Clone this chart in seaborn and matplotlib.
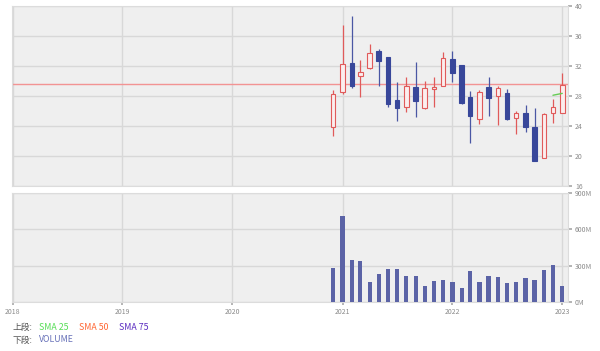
import numpy as np
import pandas as pd
import matplotlib
matplotlib.use("Agg")
import matplotlib.pyplot as plt
import matplotlib.dates as mdates
import seaborn as sns

# ---- data (monthly candles Dec 2020 .. Jan 2023) ----
months = pd.date_range("2020-12-01", "2023-01-01", freq="MS")
opens = [23.9, 28.5, 32.4, 30.7, 31.7, 34.0, 33.2, 27.5, 26.6, 29.2, 26.4, 28.95, 29.4,
         33.0, 32.1, 27.9, 24.9, 29.2, 28.0, 28.4, 25.1, 25.7, 23.8, 19.8, 25.8, 25.8]
highs = [28.8, 37.45, 38.7, 32.75, 34.9, 34.3, 33.2, 29.85, 30.5, 32.5, 30.0, 30.5, 33.9,
         34.0, 32.1, 28.7, 28.8, 30.6, 29.4, 28.95, 25.96, 26.8, 26.35, 25.7, 27.6, 31.05]
lows = [22.7, 28.3, 29.1, 27.9, 31.6, 29.3, 26.6, 24.7, 25.9, 25.15, 26.3, 26.5, 29.3,
        29.85, 27.0, 21.8, 24.25, 25.4, 24.15, 24.8, 23.0, 23.2, 19.4, 19.7, 24.35, 25.8]
closes = [28.3, 32.2, 29.3, 31.2, 33.7, 32.7, 26.9, 26.4, 29.4, 27.3, 29.1, 29.26, 33.0,
          31.05, 27.1, 25.4, 28.5, 27.8, 29.1, 24.9, 25.7, 23.9, 19.4, 25.6, 26.6, 29.5]
volume_m = [281, 709, 344, 336, 167, 235, 273, 273, 213, 213, 131, 177, 183,
            164, 117, 259, 169, 213, 207, 158, 164, 197, 183, 265, 303, 134]
sma25_months = months[-2:]
sma25 = [28.1, 28.35]
last_price = 29.6
years = [2018, 2019, 2020, 2021, 2022, 2023]
price_ticks = [16, 20, 24, 28, 32, 36, 40]
vol_ticks_m = [0, 300, 600, 900]

# ---- style ----
sns.set_theme(style="white")
plt.rcParams["font.family"] = ["Noto Sans CJK JP", "DejaVu Sans"]

BG = "#efefef"
GRID = "#d8d8d8"
TICKC = "#8a8a8a"
UP = "#e05a5a"
DOWN = "#38479a"
VOLC = "#5b63a6"

W, H = 600, 351
fig = plt.figure(figsize=(W / 100, H / 100), dpi=100)
ax1 = fig.add_axes([12 / W, 1 - 186 / H, 556 / W, 180 / H])
ax2 = fig.add_axes([12 / W, 1 - 302 / H, 556 / W, 109 / H])

x = mdates.date2num(months)
year_x = mdates.date2num([pd.Timestamp(f"{y}-01-01") for y in years])
xlim = (mdates.date2num(pd.Timestamp("2017-12-30")), mdates.date2num(pd.Timestamp("2023-01-20")))

for ax in (ax1, ax2):
    ax.set_facecolor(BG)
    for s in ax.spines.values():
        s.set_color("#dcdcdc")
        s.set_linewidth(0.8)
    ax.set_axisbelow(True)
    ax.grid(True, color=GRID, linewidth=1.0)

# ---- candles ----
o = np.array(opens); c = np.array(closes)
up = c >= o
wick_colors = [UP if u else "#4a57a4" for u in up]
ax1.vlines(x, lows, highs, colors=wick_colors, linewidth=0.9, zorder=3)
body_w = 15
ax1.bar(x[up], np.abs(c - o)[up], bottom=np.minimum(o, c)[up], width=body_w,
        facecolor="#fbeeee", edgecolor=UP, linewidth=0.8, zorder=4)
ax1.bar(x[~up], np.abs(c - o)[~up], bottom=np.minimum(o, c)[~up], width=body_w,
        facecolor=DOWN, edgecolor=DOWN, linewidth=0.8, zorder=4)

ax1.axhline(last_price, color="#f29393", linewidth=1.0, zorder=2)
sns.lineplot(x=mdates.date2num(sma25_months), y=sma25, color="#66cc55", linewidth=1.0,
             ax=ax1, zorder=5)

ax1.set_ylim(16, 40)
ax1.set_xlim(*xlim)
ax1.set_xticks(year_x)
ax1.set_xticklabels([])
ax1.set_yticks(price_ticks)
ax1.yaxis.tick_right()
ax1.tick_params(axis="y", right=True, length=3, color="#aaaaaa", labelsize=5,
                labelcolor=TICKC, pad=2)
ax1.tick_params(axis="x", bottom=False, length=0)
ax1.set_xlabel(""); ax1.set_ylabel("")

# ---- volume ----
vdf = pd.DataFrame({"x": x, "vol": np.array(volume_m) * 1e6})
sns.barplot(data=vdf, x="x", y="vol", native_scale=True, width=0.5, color=VOLC,
            saturation=1, linewidth=0, ax=ax2, zorder=3)
ax2.set_xlim(*xlim)
ax2.set_ylim(0, 900e6)
ax2.set_yticks([v * 1e6 for v in vol_ticks_m])
ax2.set_yticklabels([f"{v}M" for v in vol_ticks_m])
ax2.yaxis.tick_right()
ax2.set_xticks(year_x)
ax2.set_xticklabels([str(y) for y in years])
ax2.tick_params(axis="y", right=True, length=3, color="#aaaaaa", labelsize=5,
                labelcolor=TICKC, pad=2)
ax2.tick_params(axis="x", bottom=True, length=2, color="#aaaaaa", labelsize=5,
                labelcolor=TICKC, pad=2)
ax2.set_xlabel(""); ax2.set_ylabel("")

# ---- legend text ----
fs = 6.3
def ftxt(px, py, s, col):
    fig.text(px / W, 1 - py / H, s, color=col, fontsize=fs, va="center", ha="left")

ftxt(12.5, 327, "上段:", "#555555")
ftxt(39, 327, "SMA 25", "#55dd55")
ftxt(79, 327, "SMA 50", "#ff6633")
ftxt(119, 327, "SMA 75", "#5a2bc0")
ftxt(12.5, 340, "下段:", "#555555")
ftxt(39, 340, "VOLUME", "#6670b8")

fig.savefig("out.png", dpi=100, facecolor="white")
